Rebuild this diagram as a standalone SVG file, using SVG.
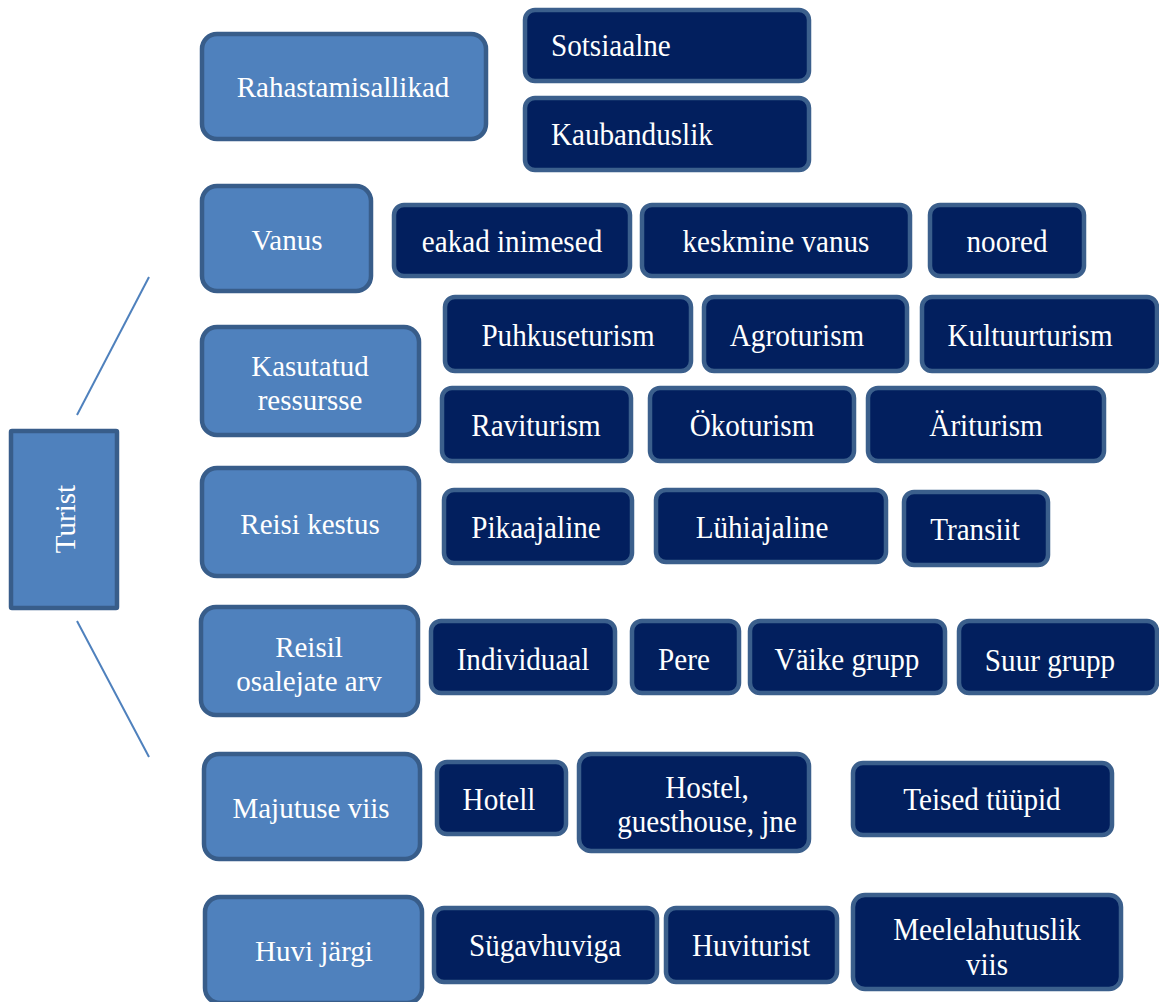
<svg xmlns="http://www.w3.org/2000/svg" width="1159" height="1002" viewBox="0 0 1159 1002">
<style>
.c rect{fill:#4F81BD;stroke:#385D8A;stroke-width:4.5}
.d rect{fill:#021F5E;stroke:#3B5F8C;stroke-width:4.5}
text{font-family:'Liberation Serif','Times New Roman',serif;font-size:29px;fill:#FFFFFF;text-anchor:middle}
.d text{font-size:31px}
.l{text-anchor:start}
</style>
<rect width="1159" height="1002" fill="#FFFFFF"/>
<g id="connectors" stroke="#4F81BD" stroke-width="2" fill="none">
<line x1="77" y1="415" x2="149" y2="277"/>
<line x1="77" y1="621" x2="149" y2="757"/>
</g>
<g id="turist" class="c"><rect x="11" y="431" width="106" height="177" rx="1"/><text transform="translate(75,519) rotate(-90)">Turist</text></g>

<g id="rahastamisallikad" class="c"><rect x="202" y="34" width="284" height="105" rx="15"/><text x="343" y="97">Rahastamisallikad</text></g>
<g id="sotsiaalne" class="d"><rect x="525" y="10" width="284" height="71" rx="10"/><text class="l" transform="translate(551,56) scale(.94,1)">Sotsiaalne</text></g>
<g id="kaubanduslik" class="d"><rect x="525" y="98" width="284" height="72" rx="10"/><text class="l" transform="translate(551,145) scale(.94,1)">Kaubanduslik</text></g>

<g id="vanus" class="c"><rect x="202" y="186" width="169" height="105" rx="15"/><text x="287" y="250">Vanus</text></g>
<g id="eakad" class="d"><rect x="394" y="205" width="236" height="71" rx="10"/><text transform="translate(512,252) scale(.94,1)">eakad inimesed</text></g>
<g id="keskmine" class="d"><rect x="642" y="205" width="268" height="71" rx="10"/><text transform="translate(776,252) scale(.94,1)">keskmine vanus</text></g>
<g id="noored" class="d"><rect x="930" y="205" width="154" height="71" rx="10"/><text transform="translate(1007,252) scale(.94,1)">noored</text></g>

<g id="kasutatud" class="c"><rect x="202" y="327" width="217" height="108" rx="15"/><text x="310" y="376">Kasutatud</text><text x="310" y="410">ressursse</text></g>
<g id="puhkuseturism" class="d"><rect x="445" y="297" width="246" height="74" rx="10"/><text transform="translate(568,346) scale(.94,1)">Puhkuseturism</text></g>
<g id="agroturism" class="d"><rect x="704" y="297" width="203" height="74" rx="10"/><text transform="translate(797,346) scale(.94,1)">Agroturism</text></g>
<g id="kultuurturism" class="d"><rect x="922" y="297" width="235" height="74" rx="10"/><text transform="translate(1030,346) scale(.94,1)">Kultuurturism</text></g>
<g id="raviturism" class="d"><rect x="442" y="388" width="189" height="73" rx="10"/><text transform="translate(536,436) scale(.94,1)">Raviturism</text></g>
<g id="okoturism" class="d"><rect x="650" y="388" width="204" height="73" rx="10"/><text transform="translate(752,436) scale(.94,1)">Ökoturism</text></g>
<g id="ariturism" class="d"><rect x="868" y="388" width="236" height="73" rx="10"/><text transform="translate(986,436) scale(.94,1)">Äriturism</text></g>

<g id="reisikestus" class="c"><rect x="202" y="468" width="217" height="108" rx="15"/><text x="310" y="534">Reisi kestus</text></g>
<g id="pikaajaline" class="d"><rect x="444" y="490" width="188" height="73" rx="10"/><text transform="translate(536,538) scale(.94,1)">Pikaajaline</text></g>
<g id="luhiajaline" class="d"><rect x="656" y="490" width="230" height="72" rx="10"/><text transform="translate(762,538) scale(.94,1)">Lühiajaline</text></g>
<g id="transiit" class="d"><rect x="904" y="492" width="144" height="73" rx="10"/><text transform="translate(975,540) scale(.94,1)">Transiit</text></g>

<g id="reisil" class="c"><rect x="201" y="607" width="217" height="108" rx="15"/><text x="309" y="657">Reisil</text><text x="309" y="691">osalejate arv</text></g>
<g id="individuaal" class="d"><rect x="431" y="621" width="184" height="72" rx="10"/><text transform="translate(523,670) scale(.94,1)">Individuaal</text></g>
<g id="pere" class="d"><rect x="632" y="621" width="107" height="72" rx="10"/><text transform="translate(684,670) scale(.94,1)">Pere</text></g>
<g id="vaikegrupp" class="d"><rect x="750" y="621" width="195" height="72" rx="10"/><text transform="translate(847,670) scale(.94,1)">Väike grupp</text></g>
<g id="suurgrupp" class="d"><rect x="959" y="621" width="198" height="72" rx="10"/><text transform="translate(1050,671) scale(.94,1)">Suur grupp</text></g>

<g id="majutus" class="c"><rect x="204" y="754" width="216" height="105" rx="15"/><text x="311" y="818">Majutuse viis</text></g>
<g id="hotell" class="d"><rect x="437" y="762" width="129" height="72" rx="10"/><text transform="translate(499,810) scale(.94,1)">Hotell</text></g>
<g id="hostel" class="d"><rect x="579" y="754" width="230" height="97" rx="12"/><text transform="translate(707,798) scale(.94,1)">Hostel,</text><text transform="translate(707,832) scale(.94,1)">guesthouse, jne</text></g>
<g id="teised" class="d"><rect x="853" y="763" width="259" height="72" rx="10"/><text transform="translate(982,810) scale(.94,1)">Teised tüüpid</text></g>

<g id="huvi" class="c"><rect x="205" y="897" width="217" height="106" rx="15"/><text x="314" y="961">Huvi järgi</text></g>
<g id="sugavhuviga" class="d"><rect x="434" y="908" width="223" height="74" rx="10"/><text transform="translate(545,956) scale(.94,1)">Sügavhuviga</text></g>
<g id="huviturist" class="d"><rect x="666" y="908" width="171" height="74" rx="10"/><text transform="translate(751,956) scale(.94,1)">Huviturist</text></g>
<g id="meelelahutuslik" class="d"><rect x="853" y="895" width="268" height="94" rx="12"/><text transform="translate(987,940) scale(.94,1)">Meelelahutuslik</text><text transform="translate(987,975) scale(.94,1)">viis</text></g>
</svg>
